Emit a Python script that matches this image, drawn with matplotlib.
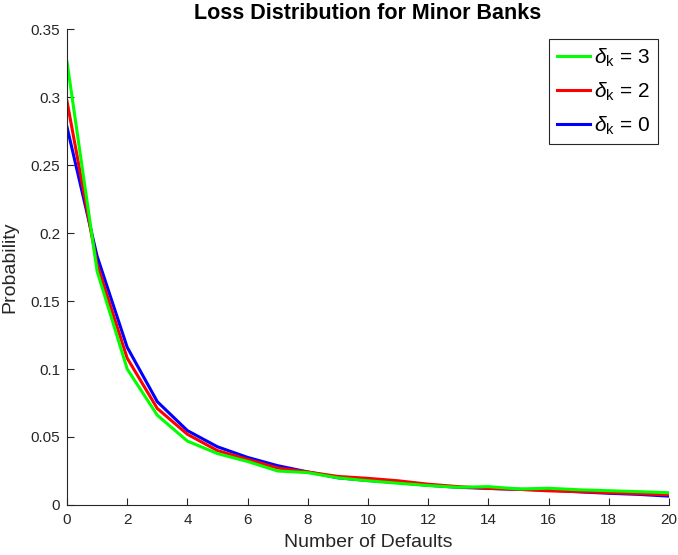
import matplotlib
matplotlib.use("Agg")
import matplotlib.pyplot as plt
from matplotlib.ticker import FuncFormatter

plt.rcParams['font.family'] = ['Liberation Sans', 'DejaVu Sans']
plt.rcParams['mathtext.fontset'] = 'custom'
plt.rcParams['mathtext.rm'] = 'Liberation Sans'
plt.rcParams['mathtext.it'] = 'Liberation Sans:italic'
plt.rcParams['mathtext.bf'] = 'Liberation Sans:bold'

defaults = list(range(21))
prob_d3 = [0.326, 0.172, 0.100, 0.066, 0.047, 0.0378, 0.032, 0.025, 0.0238, 0.020,
           0.0178, 0.016, 0.0143, 0.013, 0.0135, 0.0118, 0.0123, 0.0112, 0.0105,
           0.0098, 0.0090]
prob_d2 = [0.297, 0.177, 0.108, 0.071, 0.052, 0.040, 0.0335, 0.0272, 0.0243, 0.021,
           0.0196, 0.0178, 0.0153, 0.0135, 0.0122, 0.0115, 0.0104, 0.0098, 0.0091,
           0.0083, 0.0075]
prob_d0 = [0.278, 0.183, 0.116, 0.076, 0.0547, 0.0428, 0.035, 0.0289, 0.0243, 0.020,
           0.018, 0.0165, 0.0145, 0.013, 0.0122, 0.0115, 0.011, 0.0097, 0.0086,
           0.0078, 0.0065]
labels = [r'$\delta_{\mathrm{k}}$ = 3', r'$\delta_{\mathrm{k}}$ = 2', r'$\delta_{\mathrm{k}}$ = 0']

fig = plt.figure(figsize=(6.78, 5.55), dpi=100)
ax = fig.add_axes([0.0988, 0.0901, 0.8879, 0.8576])

axcol = '#262626'
l0, = ax.plot(defaults, prob_d0, color='#0000ff', lw=2.2)
l2, = ax.plot(defaults, prob_d2, color='#ff0000', lw=2.2)
l3, = ax.plot(defaults, prob_d3, color='#00ff00', lw=2.2)

ax.set_xlim(0, 20)
ax.set_ylim(0, 0.35)
ax.set_xticks(range(0, 21, 2))
ax.set_yticks([0, 0.05, 0.1, 0.15, 0.2, 0.25, 0.3, 0.35])
ax.yaxis.set_major_formatter(FuncFormatter(lambda v, p: f'{v:g}'))
ax.tick_params(direction='in', length=5, width=0.8, colors=axcol, labelsize=11)
ax.tick_params(axis='x', pad=6)
ax.tick_params(axis='y', pad=5)
for s in ['top', 'right']:
    ax.spines[s].set_visible(False)
for s in ['left', 'bottom']:
    ax.spines[s].set_color(axcol)
    ax.spines[s].set_linewidth(0.8)

ax.set_xlabel('Number of Defaults', fontsize=14, color=axcol, labelpad=5)
ax.set_ylabel('Probability', fontsize=14, color=axcol, labelpad=9)
ax.set_title('Loss Distribution for Minor Banks', fontsize=15.5, fontweight='bold', pad=7)

leg = ax.legend([l3, l2, l0], labels, loc='upper right', bbox_to_anchor=(0.981, 0.978),
                fontsize=15, fancybox=False, framealpha=1, edgecolor='#262626',
                handlelength=1.6, handletextpad=0.2, borderpad=0.35, labelspacing=0.55,
                borderaxespad=0)
leg.get_frame().set_linewidth(0.8)

fig.savefig('out.png', dpi=100)
